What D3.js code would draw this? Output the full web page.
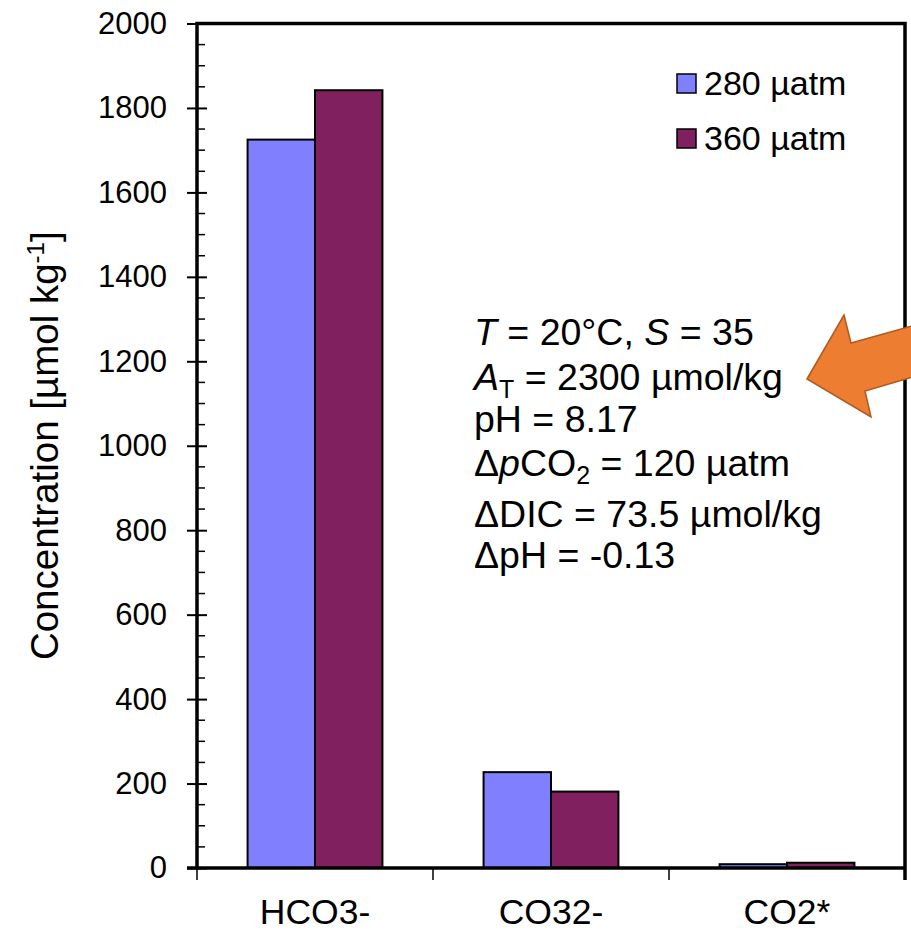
<!DOCTYPE html>
<html>
<head>
<meta charset="utf-8">
<script src="https://cdn.jsdelivr.net/npm/d3@7"></script>
<style>
  body { margin: 0; background: #fff; }
  text { font-family: "Liberation Sans", Arial, sans-serif; fill: #000; }
</style>
</head>
<body>
<svg id="chart" width="911" height="932"></svg>
<script>
// species on the x axis
const categories = ["HCO3-", "CO32-", "CO2*"];
// pCO2 scenarios
const series = ["280 µatm", "360 µatm"];
const colors = ["#8080ff", "#80205f"];
// concentrations, µmol/kg
const values280 = [1725, 227, 9];
const values360 = [1842, 181, 12.5];
const yTicks = [0, 200, 400, 600, 800, 1000, 1200, 1400, 1600, 1800, 2000];

const width = 911, height = 932;
const margin = { top: 23.5, right: 6, bottom: 64, left: 197 };

const svg = d3.select("#chart");

const x0 = d3.scaleBand()
    .domain(categories)
    .range([margin.left, width - margin.right])
    .paddingInner(0)
    .paddingOuter(0);

const x1 = d3.scaleBand()
    .domain(series)
    .range([0, x0.bandwidth()])
    .paddingInner(0)
    .paddingOuter(0.75);

const y = d3.scaleLinear()
    .domain([0, 2000])
    .range([height - margin.bottom, margin.top]);

const rows = categories.map((c, i) => ({ cat: c, vals: [values280[i], values360[i]] }));

// bars
const groups = svg.append("g").selectAll("g")
    .data(rows)
    .join("g")
    .attr("transform", d => `translate(${x0(d.cat)},0)`);

groups.selectAll("rect")
    .data(d => d.vals.map((v, j) => ({ s: series[j], v, c: colors[j] })))
    .join("rect")
    .attr("x", d => x1(d.s))
    .attr("y", d => y(d.v))
    .attr("width", x1.bandwidth())
    .attr("height", d => y(0) - y(d.v))
    .attr("fill", d => d.c)
    .attr("stroke", "#000")
    .attr("stroke-width", 2);

// minor y ticks (inside)
const minor = d3.range(50, 2000, 50).filter(v => v % 200 !== 0);
svg.append("g").selectAll("line")
    .data(minor)
    .join("line")
    .attr("x1", margin.left).attr("x2", margin.left + 8)
    .attr("y1", d => y(d)).attr("y2", d => y(d))
    .attr("stroke", "#000").attr("stroke-width", 1.5);

// y axis with major ticks crossing the axis line
const yAxis = svg.append("g")
    .attr("transform", `translate(${margin.left},0)`)
    .call(d3.axisLeft(y).tickValues(yTicks).tickFormat(d3.format("d"))
        .tickSizeInner(10).tickSizeOuter(0).tickPadding(20));
yAxis.select(".domain").remove();
yAxis.selectAll(".tick line").attr("x2", 10).attr("x1", -10).attr("stroke-width", 2);
yAxis.selectAll(".tick text")
    .style("font-family", "'Liberation Sans', Arial, sans-serif")
    .style("font-size", "31px");

// x axis
const xTickPos = [...categories.map(c => x0(c)), x0.range()[1]];
svg.append("g").selectAll("line")
    .data(xTickPos)
    .join("line")
    .attr("x1", d => d).attr("x2", d => d)
    .attr("y1", y(0)).attr("y2", y(0) + 12)
    .attr("stroke", "#000").attr("stroke-width", 1.5);

svg.append("g").selectAll("text")
    .data(categories)
    .join("text")
    .attr("x", d => x0(d) + x0.bandwidth() / 2)
    .attr("y", 924)
    .attr("text-anchor", "middle")
    .style("font-size", "35.5px")
    .text(d => d);

// plot frame
const [xl, xr] = x0.range();
svg.append("path")
    .attr("d", `M${xl},${y(0)}V${y(2000)}H${xr}V${y(0) + 12}`)
    .attr("fill", "none").attr("stroke", "#000").attr("stroke-width", 3.5);
svg.append("line")
    .attr("x1", xl - 10).attr("x2", xr)
    .attr("y1", y(0)).attr("y2", y(0))
    .attr("stroke", "#000").attr("stroke-width", 3.5);

// y axis title
const title = svg.append("text")
    .attr("transform", `translate(58,${(y(0) + y(2000)) / 2}) rotate(-90)`)
    .attr("text-anchor", "middle")
    .style("font-size", "38.5px");
title.append("tspan").text("Concentration  [µmol kg");
title.append("tspan").attr("dy", -14).style("font-size", "24px").text("-1");
title.append("tspan").attr("dy", 14).text("]");

// legend
const legend = svg.append("g").selectAll("g")
    .data(series)
    .join("g")
    .attr("transform", (d, i) => `translate(677,${74 + i * 55})`);
legend.append("rect")
    .attr("width", 19).attr("height", 19)
    .attr("fill", (d, i) => colors[i])
    .attr("stroke", "#000").attr("stroke-width", 1.5);
legend.append("text")
    .attr("x", 27).attr("y", 21)
    .style("font-size", "34px")
    .text(d => d);

// annotation text
const note = svg.append("text").style("font-size", "37.5px");
const lines = [
    [["T", "i"], [" = 20°C, "], ["S", "i"], [" = 35"]],
    [["A", "i"], ["T", "sub"], [" = 2300 µmol/kg"]],
    [["pH = 8.17"]],
    [["Δ"], ["p", "i"], ["CO"], ["2", "sub"], [" = 120 µatm"]],
    [["ΔDIC = 73.5 µmol/kg"]],
    [["ΔpH = -0.13"]]
];
const baselines = [345, 390, 432, 476, 527, 568];
lines.forEach((parts, li) => {
    let shifted = false;
    parts.forEach((p, k) => {
        const t = note.append("tspan").text(p[0]);
        if (k === 0) t.attr("x", 474).attr("y", baselines[li]);
        if (p[1] === "i") t.style("font-style", "italic");
        if (p[1] === "sub") {
            t.attr("dy", 8).style("font-size", "25px");
            shifted = true;
        } else if (shifted) {
            t.attr("dy", -8);
            shifted = false;
        }
    });
});

// orange arrow pointing at the annotation
const arrowPts = [[807, 379], [844, 315], [851, 343], [930, 321], [930, 372], [865, 391], [871, 417]];
svg.append("path")
    .attr("d", d3.line()(arrowPts) + "Z")
    .attr("fill", "#ed7d31")
    .attr("stroke", "#ae5a21")
    .attr("stroke-width", 1.5)
    .attr("stroke-linejoin", "miter");
</script>
</body>
</html>
